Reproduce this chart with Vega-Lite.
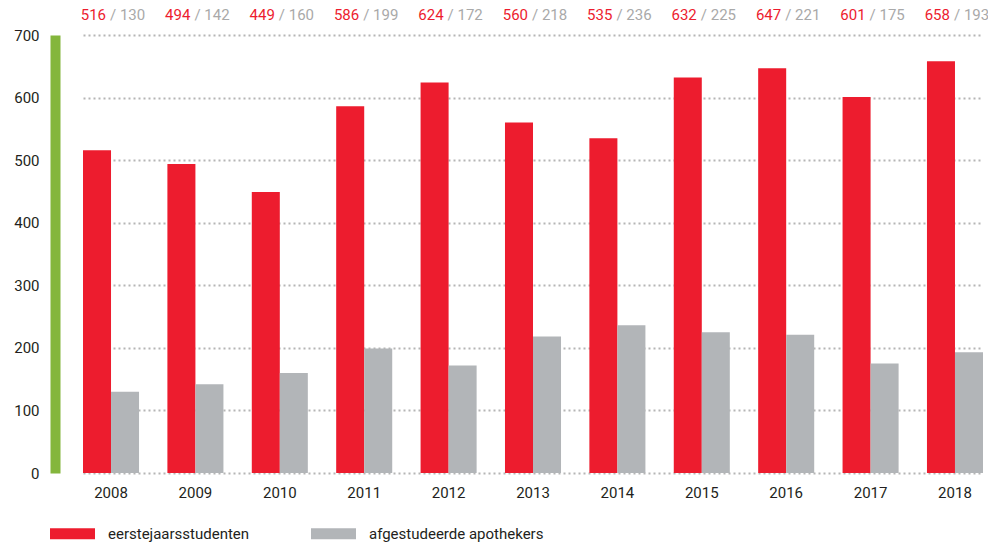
{
  "$schema": "https://vega.github.io/schema/vega-lite/v6.json",
  "width": 928,
  "height": 438,
  "autosize": {"type": "none"},
  "padding": {"left": 60, "top": 35, "right": 0, "bottom": 72},
  "background": "white",
  "config": {
    "font": "Roboto",
    "view": {"stroke": null}
  },
  "datasets": {
    "long": [
      {"year": "2008", "series": "eerstejaarsstudenten", "value": 516},
      {"year": "2008", "series": "afgestudeerde apothekers", "value": 130},
      {"year": "2009", "series": "eerstejaarsstudenten", "value": 494},
      {"year": "2009", "series": "afgestudeerde apothekers", "value": 142},
      {"year": "2010", "series": "eerstejaarsstudenten", "value": 449},
      {"year": "2010", "series": "afgestudeerde apothekers", "value": 160},
      {"year": "2011", "series": "eerstejaarsstudenten", "value": 586},
      {"year": "2011", "series": "afgestudeerde apothekers", "value": 199},
      {"year": "2012", "series": "eerstejaarsstudenten", "value": 624},
      {"year": "2012", "series": "afgestudeerde apothekers", "value": 172},
      {"year": "2013", "series": "eerstejaarsstudenten", "value": 560},
      {"year": "2013", "series": "afgestudeerde apothekers", "value": 218},
      {"year": "2014", "series": "eerstejaarsstudenten", "value": 535},
      {"year": "2014", "series": "afgestudeerde apothekers", "value": 236},
      {"year": "2015", "series": "eerstejaarsstudenten", "value": 632},
      {"year": "2015", "series": "afgestudeerde apothekers", "value": 225},
      {"year": "2016", "series": "eerstejaarsstudenten", "value": 647},
      {"year": "2016", "series": "afgestudeerde apothekers", "value": 221},
      {"year": "2017", "series": "eerstejaarsstudenten", "value": 601},
      {"year": "2017", "series": "afgestudeerde apothekers", "value": 175},
      {"year": "2018", "series": "eerstejaarsstudenten", "value": 658},
      {"year": "2018", "series": "afgestudeerde apothekers", "value": 193}
    ],
    "wide": [
      {"year": "2008", "eerste": 516, "afgestudeerd": 130},
      {"year": "2009", "eerste": 494, "afgestudeerd": 142},
      {"year": "2010", "eerste": 449, "afgestudeerd": 160},
      {"year": "2011", "eerste": 586, "afgestudeerd": 199},
      {"year": "2012", "eerste": 624, "afgestudeerd": 172},
      {"year": "2013", "eerste": 560, "afgestudeerd": 218},
      {"year": "2014", "eerste": 535, "afgestudeerd": 236},
      {"year": "2015", "eerste": 632, "afgestudeerd": 225},
      {"year": "2016", "eerste": 647, "afgestudeerd": 221},
      {"year": "2017", "eerste": 601, "afgestudeerd": 175},
      {"year": "2018", "eerste": 658, "afgestudeerd": 193}
    ]
  },
  "encoding": {
    "x": {
      "field": "year",
      "type": "nominal",
      "scale": {"range": [23, 923], "paddingInner": 0.336, "paddingOuter": 0},
      "axis": {
        "title": null,
        "domain": false,
        "ticks": false,
        "grid": false,
        "labelAngle": 0,
        "labelPadding": 12,
        "labelFontSize": 15,
        "labelColor": "#231f20"
      }
    }
  },
  "layer": [
    {
      "data": {"name": "long"},
      "mark": {"type": "bar"},
      "encoding": {
        "xOffset": {
          "field": "series",
          "type": "nominal",
          "scale": {"domain": ["eerstejaarsstudenten", "afgestudeerde apothekers"], "paddingInner": 0, "paddingOuter": 0}
        },
        "y": {
          "field": "value",
          "type": "quantitative",
          "scale": {"domain": [0, 700], "nice": false},
          "axis": {
            "title": null,
            "values": [0, 100, 200, 300, 400, 500, 600, 700],
            "offset": 5,
            "domainColor": "#84b63c",
            "domainWidth": 10,
            "ticks": false,
            "labelPadding": 16,
            "labelFontSize": 15,
            "labelColor": "#231f20",
            "grid": true,
            "gridColor": "#b5b5b5",
            "gridDash": [2, 3],
            "gridWidth": 2
          }
        },
        "color": {
          "field": "series",
          "type": "nominal",
          "scale": {
            "domain": ["eerstejaarsstudenten", "afgestudeerde apothekers"],
            "range": ["#ed1c2e", "#b2b5b8"]
          },
          "legend": {
            "title": null,
            "orient": "none",
            "direction": "horizontal",
            "legendX": -10,
            "legendY": 476,
            "symbolType": "M-1,-0.244H1V0.244H-1Z",
            "symbolSize": 2025,
            "symbolStrokeWidth": 0,
            "labelFontSize": 15,
            "labelLimit": 400,
            "labelColor": "#231f20",
            "labelOffset": 13,
            "columnPadding": 61
          }
        }
      }
    },
    {
      "data": {"name": "wide"},
      "mark": {"type": "text", "align": "right", "baseline": "middle", "dx": -5, "dy": -20, "fontSize": 15, "color": "#ed1c2e"},
      "encoding": {
        "y": {"datum": 700},
        "text": {"field": "eerste", "type": "quantitative"}
      }
    },
    {
      "data": {"name": "wide"},
      "transform": [{"calculate": "'/ ' + datum.afgestudeerd", "as": "lbl"}],
      "mark": {"type": "text", "align": "left", "baseline": "middle", "dx": -1, "dy": -20, "fontSize": 15, "color": "#a9a9a9"},
      "encoding": {
        "y": {"datum": 700},
        "text": {"field": "lbl", "type": "nominal"}
      }
    }
  ]
}
